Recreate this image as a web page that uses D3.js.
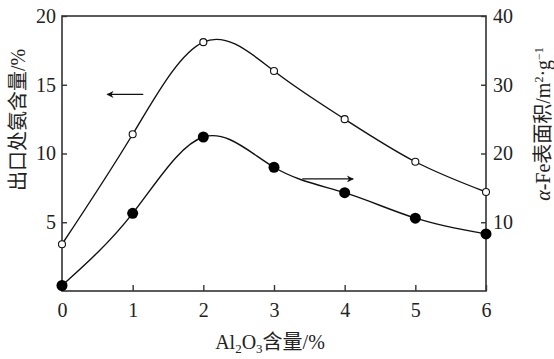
<!DOCTYPE html>
<html>
<head>
<meta charset="utf-8">
<script src="https://cdn.jsdelivr.net/npm/d3@7"></script>
<style>
  body { margin: 0; background: #fff; }
  text { font-family: 'Liberation Serif', 'Times New Roman', 'Noto Sans CJK SC', serif; fill: #222; }
</style>
</head>
<body>
<div class="chart"></div>
<script>
  const width = 554;
  const height = 359;
  const margin = { top: 16, right: 68, bottom: 68, left: 62 };

  const al2o3 = [0, 1, 2, 3, 4, 5, 6];
  const ammonia = [3.4, 11.4, 18.1, 16.0, 12.5, 9.4, 7.2];
  const surfaceArea = [0.8, 11.3, 22.4, 18.0, 14.3, 10.6, 8.3];

  const xTicks = [0, 1, 2, 3, 4, 5, 6];
  const yLeftTicks = [5, 10, 15, 20];
  const yRightTicks = [10, 20, 30, 40];

  const xScale = d3.scaleLinear()
    .domain([0, 6])
    .range([margin.left, width - margin.right]);

  const yLeft = d3.scaleLinear()
    .domain([0, 20])
    .range([height - margin.bottom, margin.top]);

  const yRight = d3.scaleLinear()
    .domain([0, 40])
    .range([height - margin.bottom, margin.top]);

  const svg = d3.select('.chart').append('svg')
    .attr('width', width)
    .attr('height', height);

  // frame
  svg.append('rect')
    .attr('x', margin.left)
    .attr('y', margin.top)
    .attr('width', width - margin.right - margin.left)
    .attr('height', height - margin.bottom - margin.top)
    .attr('fill', 'none')
    .attr('stroke', '#333')
    .attr('stroke-width', 1.6);

  const xAxis = d3.axisBottom(xScale).tickValues(xTicks).tickFormat(d3.format('d'))
    .tickSize(-6).tickPadding(12).tickSizeOuter(0);
  const leftAxis = d3.axisLeft(yLeft).tickValues(yLeftTicks).tickFormat(d3.format('d'))
    .tickSize(-5).tickPadding(6).tickSizeOuter(0);
  const rightAxis = d3.axisRight(yRight).tickValues(yRightTicks).tickFormat(d3.format('d'))
    .tickSize(-5).tickPadding(7).tickSizeOuter(0);

  function styleAxis(g) {
    g.select('.domain').remove();
    g.selectAll('line').attr('stroke', '#333').attr('stroke-width', 1.4);
    g.selectAll('text')
      .style('font-family', "'Liberation Serif', serif")
      .style('font-size', '20px')
      .attr('fill', '#222');
  }

  svg.append('g')
    .attr('transform', `translate(0, ${height - margin.bottom})`)
    .call(xAxis)
    .call(styleAxis);

  svg.append('g')
    .attr('transform', `translate(${margin.left}, 0)`)
    .call(leftAxis)
    .call(styleAxis);

  svg.append('g')
    .attr('transform', `translate(${width - margin.right}, 0)`)
    .call(rightAxis)
    .call(styleAxis);

  const ammoniaData = al2o3.map((x, i) => ({ x, y: ammonia[i] }));
  const areaData = al2o3.map((x, i) => ({ x, y: surfaceArea[i] }));

  const lineLeft = d3.line()
    .x(d => xScale(d.x))
    .y(d => yLeft(d.y))
    .curve(d3.curveNatural);

  const lineRight = d3.line()
    .x(d => xScale(d.x))
    .y(d => yRight(d.y))
    .curve(d3.curveNatural);

  svg.append('path')
    .datum(ammoniaData)
    .attr('d', lineLeft)
    .attr('fill', 'none')
    .attr('stroke', '#111')
    .attr('stroke-width', 1.4);

  svg.append('path')
    .datum(areaData)
    .attr('d', lineRight)
    .attr('fill', 'none')
    .attr('stroke', '#111')
    .attr('stroke-width', 1.4);

  svg.append('g')
    .selectAll('circle')
    .data(ammoniaData)
    .join('circle')
    .attr('cx', d => xScale(d.x))
    .attr('cy', d => yLeft(d.y))
    .attr('r', 3.5)
    .attr('fill', '#fff')
    .attr('stroke', '#111')
    .attr('stroke-width', 1.1);

  svg.append('g')
    .selectAll('circle')
    .data(areaData)
    .join('circle')
    .attr('cx', d => xScale(d.x))
    .attr('cy', d => yRight(d.y))
    .attr('r', 5.5)
    .attr('fill', '#000');

  // arrows
  const defs = svg.append('defs');
  defs.append('marker')
    .attr('id', 'head')
    .attr('viewBox', '0 0 10 10')
    .attr('refX', 9)
    .attr('refY', 5)
    .attr('markerWidth', 9)
    .attr('markerHeight', 7)
    .attr('markerUnits', 'userSpaceOnUse')
    .attr('orient', 'auto')
    .append('path')
    .attr('d', 'M0,0 L10,5 L0,10 L3,5 Z')
    .attr('fill', '#111');

  svg.append('line')
    .attr('x1', xScale(1.15)).attr('y1', yLeft(14.3))
    .attr('x2', xScale(0.64)).attr('y2', yLeft(14.3))
    .attr('stroke', '#111').attr('stroke-width', 1.3)
    .attr('marker-end', 'url(#head)');

  svg.append('line')
    .attr('x1', xScale(3.4)).attr('y1', yRight(16.3))
    .attr('x2', xScale(4.12)).attr('y2', yRight(16.3))
    .attr('stroke', '#111').attr('stroke-width', 1.3)
    .attr('marker-end', 'url(#head)');

  // axis titles
  const xTitle = svg.append('text')
    .attr('x', 270)
    .attr('y', 349)
    .attr('text-anchor', 'middle')
    .style('font-size', '20px');
  xTitle.append('tspan').text('Al');
  xTitle.append('tspan').text('2').attr('dy', 4).style('font-size', '13px');
  xTitle.append('tspan').text('O').attr('dy', -4);
  xTitle.append('tspan').text('3').attr('dy', 4).style('font-size', '13px');
  xTitle.append('tspan').text('含量/%').attr('dy', -4);

  svg.append('text')
    .attr('transform', 'translate(25, 120) rotate(-90)')
    .attr('text-anchor', 'middle')
    .style('font-size', '20px')
    .text('出口处氨含量/%');

  const rTitle = svg.append('text')
    .attr('transform', 'translate(550, 124) rotate(-90)')
    .attr('text-anchor', 'middle')
    .style('font-size', '20px');
  rTitle.append('tspan').text('α').style('font-style', 'italic');
  rTitle.append('tspan').text('-Fe表面积/m');
  rTitle.append('tspan').text('2').attr('dy', -7).style('font-size', '12px');
  rTitle.append('tspan').text('·g').attr('dy', 7);
  rTitle.append('tspan').text('−1').attr('dy', -7).style('font-size', '12px');
</script>
</body>
</html>
